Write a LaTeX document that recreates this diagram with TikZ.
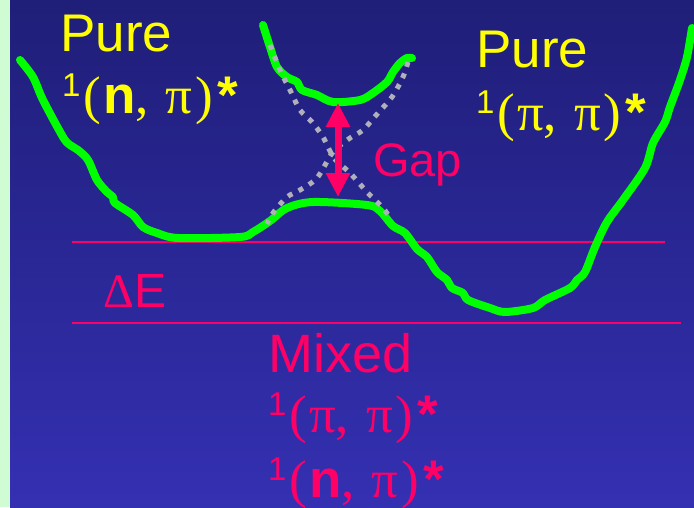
\documentclass[tikz,border=0pt]{standalone}
\usepackage{fontspec}
\setmainfont{Liberation Sans}
\newfontfamily\symbolfont{Liberation Serif}
\usetikzlibrary{arrows.meta}
\definecolor{slidetop}{RGB}{31,30,120}
\definecolor{slidebottom}{RGB}{52,48,178}
\definecolor{slidestrip}{RGB}{208,252,212}
\definecolor{curvegreen}{RGB}{0,255,0}
\definecolor{gapred}{RGB}{255,0,102}
\definecolor{dotgray}{RGB}{176,176,186}
\definecolor{labelyellow}{RGB}{255,255,0}
\newcommand{\spinone}{\raisebox{17pt}{\fontsize{33}{33}\selectfont 1}\kern3pt}
\newcommand{\sym}[1]{{\symbolfont #1}}
\newcommand{\orbitals}[1]{\spinone\sym{(}\kern2pt#1\sym{,}\kern17pt\sym{π}\kern3pt\sym{)}\kern4pt\textbf{*}}
\begin{document}
\begin{tikzpicture}[x=1pt,y=-1pt,
  surface/.style={curvegreen,line width=8pt,line cap=round,line join=round},
  diabatic/.style={dotgray,line width=5pt,dash pattern=on 5pt off 7pt},
  level/.style={gapred,line width=2pt},
  pure/.style={labelyellow,anchor=base west,inner sep=0pt,font=\fontsize{53}{60}\selectfont},
  mixed/.style={gapred,anchor=base west,inner sep=0pt,font=\fontsize{53}{60}\selectfont},
  gaparrow/.style={gapred,line width=7pt,{Triangle[width=23pt,length=24pt]}-{Triangle[width=23pt,length=24pt]}}]
\useasboundingbox (0,0) rectangle (694,507);
\shade[top color=slidetop,bottom color=slidebottom] (10,0) rectangle (694,507);
\fill[slidestrip] (0,0) rectangle (10,507);

\draw[level] (72,242) -- (665,242);
\draw[level] (72,323) -- (681,323);

\draw[surface] plot[smooth,tension=0.5] coordinates {(20,60) (33,77) (43,100) (63,137) (70,145) (78,150) (88,160) (97,180) (107,192) (113,197) (115,203) (133,215) (143,227) (157,233) (178,238) (240,237) (253,232) (270,221) (287,208) (313,202) (367,205) (380,211) (393,226) (405,233) (417,249) (427,257) (437,272) (447,280) (452,288) (463,293) (468,300) (490,308) (505,312) (533,308) (545,300) (570,288) (577,280) (585,272) (595,247) (607,222) (623,200) (645,168) (653,143) (665,122) (670,107) (680,80) (687,57) (692,28)};
\draw[surface] plot[smooth,tension=0.5] coordinates {(263,25) (270,47) (277,67) (287,77) (297,82) (302,90) (317,95) (333,102) (360,100) (373,93) (387,82) (393,72) (400,63) (407,58) (412,58)};

\draw[diabatic] plot[smooth] coordinates {(270,45) (280,70) (290,90) (300,110) (312,122) (323,137) (334,158) (350,173) (367,192) (383,208) (390,218)};
\draw[diabatic] plot[smooth] coordinates {(408,62) (403,77) (392,97) (378,113) (363,130) (350,138) (333,152) (317,178) (300,190) (287,197) (273,213) (267,224)};

\coordinate (gaptop) at (338,103);
\coordinate (gapbottom) at (338,197);
\draw[gaparrow] (gaptop) -- (gapbottom);
\node[mixed,font=\fontsize{47}{56}\selectfont] (gap) at (373,176) {Gap};

\node[pure] (pureleft) at (60,51) {Pure};
\node[pure] (npistate) at (62,113) {\orbitals{\textbf{n}}};
\node[pure] (pureright) at (476,67) {Pure};
\node[pure] (pipistate) at (476,130) {\orbitals{\sym{π}}};

\node[mixed,font=\fontsize{48}{56}\selectfont] (deltae) at (103,307) {\sym{Δ}E};
\node[mixed,font=\fontsize{54}{62}\selectfont] (mixed) at (268,372) {Mixed};
\node[mixed] (mixpipi) at (268,432) {\orbitals{\sym{π}}};
\node[mixed] (mixnpi) at (268,497) {\orbitals{\textbf{n}}};
\end{tikzpicture}
\end{document}
